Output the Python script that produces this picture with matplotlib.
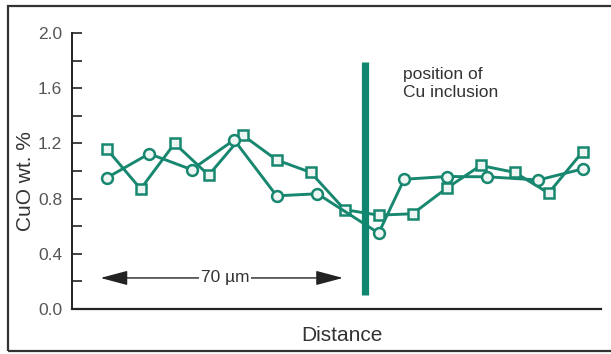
import matplotlib.pyplot as plt
from matplotlib.patches import Rectangle
from matplotlib.ticker import MultipleLocator

# distance along the traverse (um) and CuO content (wt. %)
sq_x = [0, 10, 20, 30, 40, 50, 60, 70, 80, 90, 100, 110, 120, 130, 140]
sq_y = [1.16, 0.87, 1.20, 0.97, 1.26, 1.08, 0.99, 0.72, 0.68, 0.69,
        0.875, 1.04, 0.99, 0.84, 1.14]

circ_x = [0, 12.5, 25, 37.5, 50, 62, 80, 87.5, 100, 112, 127, 140]
circ_y = [0.95, 1.125, 1.01, 1.225, 0.82, 0.835, 0.55, 0.94, 0.96,
          0.958, 0.935, 1.015]

inclusion_x = 76
inclusion_span = (0.10, 1.79)
arrow_span = (-1.8, 69.5)
arrow_y = 0.225

teal = "#17876f"


def main():
    plt.rcParams["font.family"] = ["Liberation Sans", "DejaVu Sans"]
    fig = plt.figure(figsize=(6.11, 3.54), dpi=100)
    ax = fig.add_axes([0.1178, 0.1271, 0.8658, 0.7797])

    ax.plot(sq_x, sq_y, color=teal, lw=2.1, marker="s", ms=6.8,
            mfc="#eef6f3", mec=teal, mew=1.8, zorder=3)
    ax.plot(circ_x, circ_y, color=teal, lw=2.1, marker="o", ms=7.8,
            mfc="#eef6f3", mec=teal, mew=1.8, zorder=3)

    # Cu inclusion marker
    ax.plot([inclusion_x, inclusion_x], inclusion_span, color="#0f8670",
            lw=5.2, solid_capstyle="butt", zorder=4)
    ax.text(87.1, 1.755, "position of\nCu inclusion", fontsize=12.5,
            color="#333333", va="top", ha="left", linespacing=1.25)

    # 70 um scale arrow
    ax.annotate("", xy=(arrow_span[0], arrow_y), xytext=(arrow_span[1], arrow_y),
                arrowprops=dict(arrowstyle="<|-|>,head_length=1.2,head_width=0.32",
                                mutation_scale=14, color="#222222", lw=1.0,
                                shrinkA=0, shrinkB=0))
    ax.text(34.8, arrow_y, "70 \u00b5m", fontsize=12.5, color="#333333",
            ha="center", va="center",
            bbox=dict(facecolor="white", edgecolor="none", pad=1.5))

    ax.set_xlim(-10.2, 145.4)
    ax.set_ylim(0, 2.0)
    ax.spines["top"].set_visible(False)
    ax.spines["right"].set_visible(False)
    ax.spines["left"].set_linewidth(1.4)
    ax.spines["bottom"].set_linewidth(1.6)
    ax.spines["left"].set_color("#222222")
    ax.spines["bottom"].set_color("#222222")
    ax.set_xticks([])
    ax.yaxis.set_minor_locator(MultipleLocator(0.2))
    ax.set_yticks([0, 0.4, 0.8, 1.2, 1.6, 2.0])
    ax.set_yticklabels(["0.0", "0.4", "0.8", "1.2", "1.6", "2.0"])
    ax.tick_params(axis="y", which="both", direction="in", length=7,
                   width=1.2, color="#222222", labelsize=12.5,
                   labelcolor="#555555", pad=7)

    fig.text(0.042, 0.488, "CuO wt. %", rotation=90, fontsize=15,
             color="#333333", ha="center", va="center")
    fig.text(0.56, 0.051, "Distance", fontsize=15, color="#333333",
             ha="center", va="center")

    # frame around the whole figure (right side falls outside the picture)
    fig.patches.append(Rectangle((8 / 611, 3 / 354), 620 / 611, 345 / 354,
                                 transform=fig.transFigure, fill=False,
                                 edgecolor="#333333", lw=1.6))

    fig.savefig("out.png", dpi=100)


if __name__ == "__main__":
    main()
